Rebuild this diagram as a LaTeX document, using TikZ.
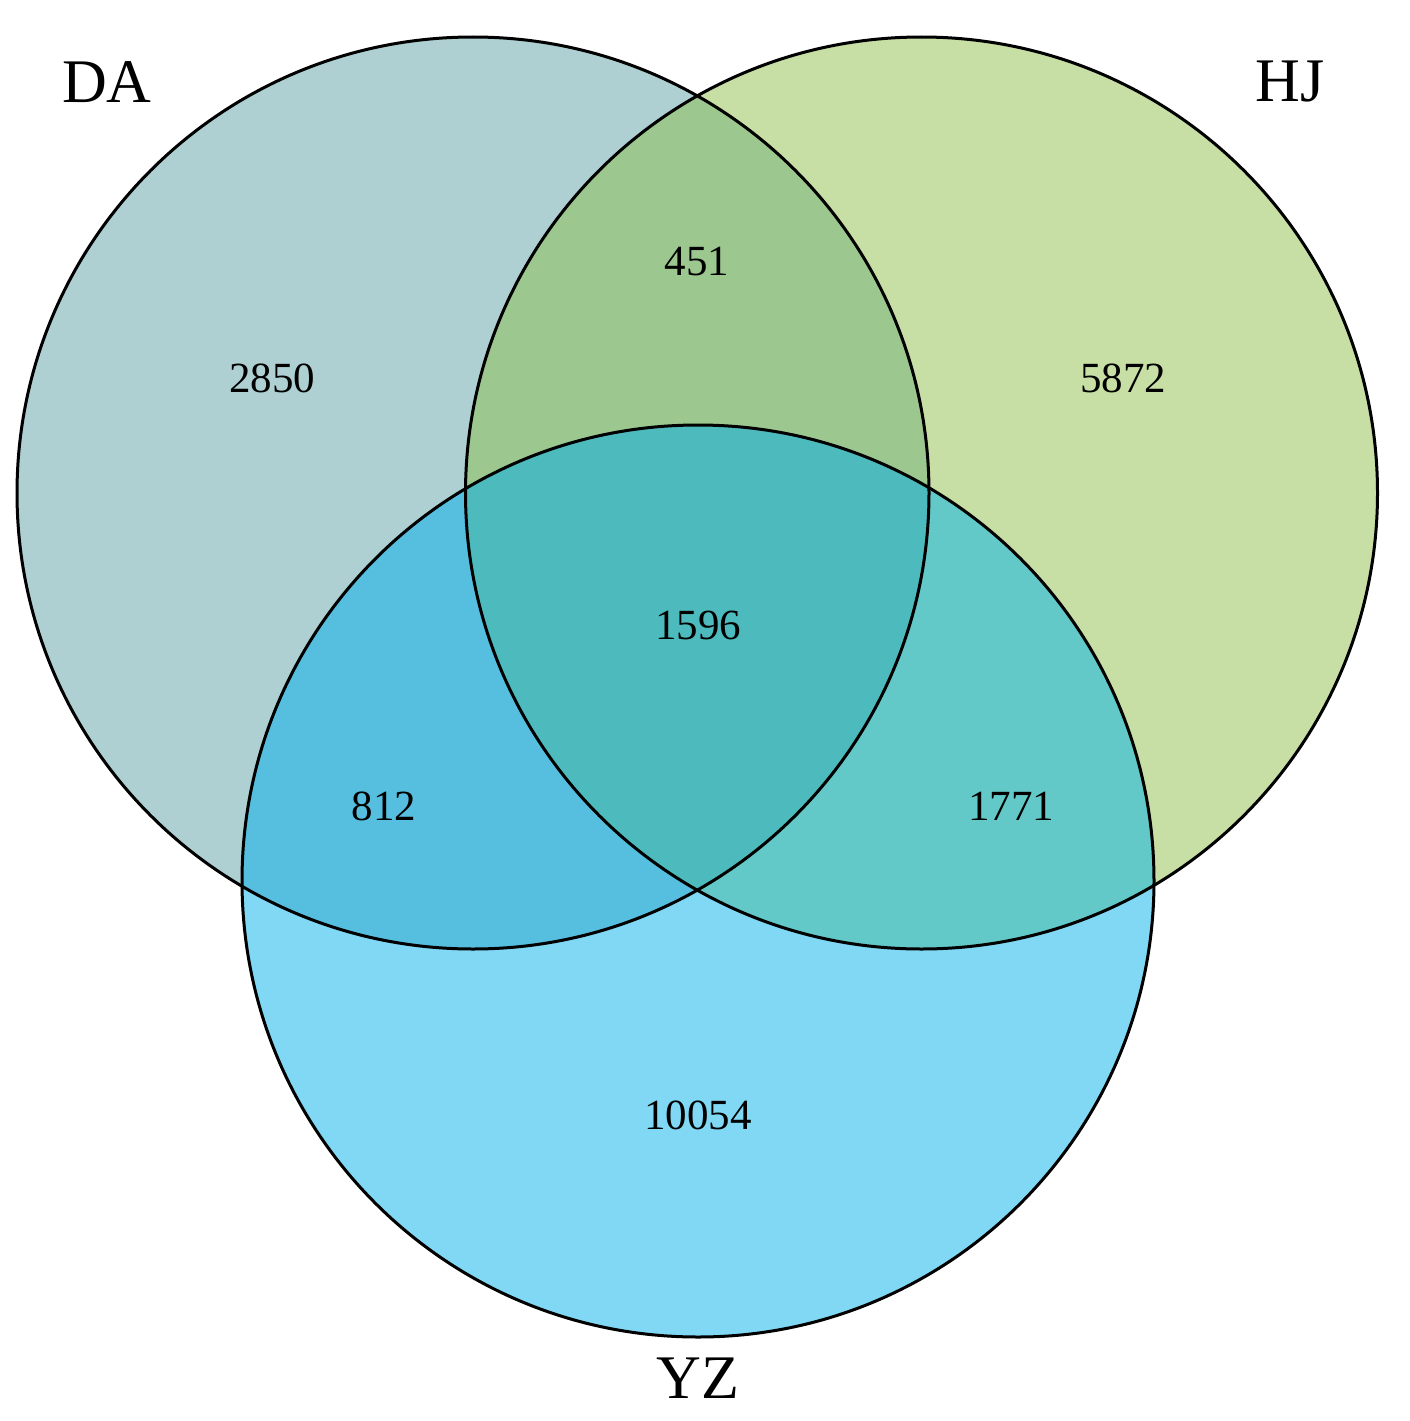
\documentclass[tikz,border=0pt]{standalone}
\usepackage{fontspec}
\setmainfont{Liberation Serif}
\definecolor{cDA}{HTML}{AFD0D2}
\definecolor{cHJ}{HTML}{C7DFA5}
\definecolor{cYZ}{HTML}{80D8F5}
\definecolor{cDAHJ}{HTML}{9CC88F}
\definecolor{cDAYZ}{HTML}{56BFDF}
\definecolor{cHJYZ}{HTML}{63C8C8}
\definecolor{cALL}{HTML}{4DBBBD}
\begin{document}
\begin{tikzpicture}[x=1pt,y=-1pt,
  setlabel/.style={font=\fontsize{62}{62}\selectfont},
  numlabel/.style={font=\fontsize{43}{43}\selectfont},
  ring/.style={draw=black,line width=3pt}]
\useasboundingbox (0,0) rectangle (1409,1421);
\fill[white] (0,0) rectangle (1409,1421);
\coordinate (da) at (473,493);
\coordinate (hj) at (921.5,493);
\coordinate (yz) at (698,881);
\def\R{456}
\fill[cDA] (da) circle[radius=\R];
\fill[cHJ] (hj) circle[radius=\R];
\fill[cYZ] (yz) circle[radius=\R];
\begin{scope}
  \clip (da) circle[radius=\R];
  \fill[cDAHJ] (hj) circle[radius=\R];
  \fill[cDAYZ] (yz) circle[radius=\R];
\end{scope}
\begin{scope}
  \clip (hj) circle[radius=\R];
  \fill[cHJYZ] (yz) circle[radius=\R];
\end{scope}
\begin{scope}
  \clip (da) circle[radius=\R];
  \clip (hj) circle[radius=\R];
  \fill[cALL] (yz) circle[radius=\R];
\end{scope}
\draw[ring] (da) circle[radius=\R];
\draw[ring] (hj) circle[radius=\R];
\draw[ring] (yz) circle[radius=\R];
\node[setlabel] (lDA) at (107,82) {DA};
\node[setlabel] (lHJ) at (1290,82) {HJ};
\node[setlabel] (lYZ) at (698,1378) {YZ};
\node[numlabel] (n1) at (272,378) {2850};
\node[numlabel] (n2) at (697,262) {451};
\node[numlabel] (n3) at (1123,378) {5872};
\node[numlabel] (n4) at (698,625) {1596};
\node[numlabel] (n5) at (384,806) {812};
\node[numlabel] (n6) at (1011,806) {1771};
\node[numlabel] (n7) at (698,1115) {10054};
\end{tikzpicture}
\end{document}
